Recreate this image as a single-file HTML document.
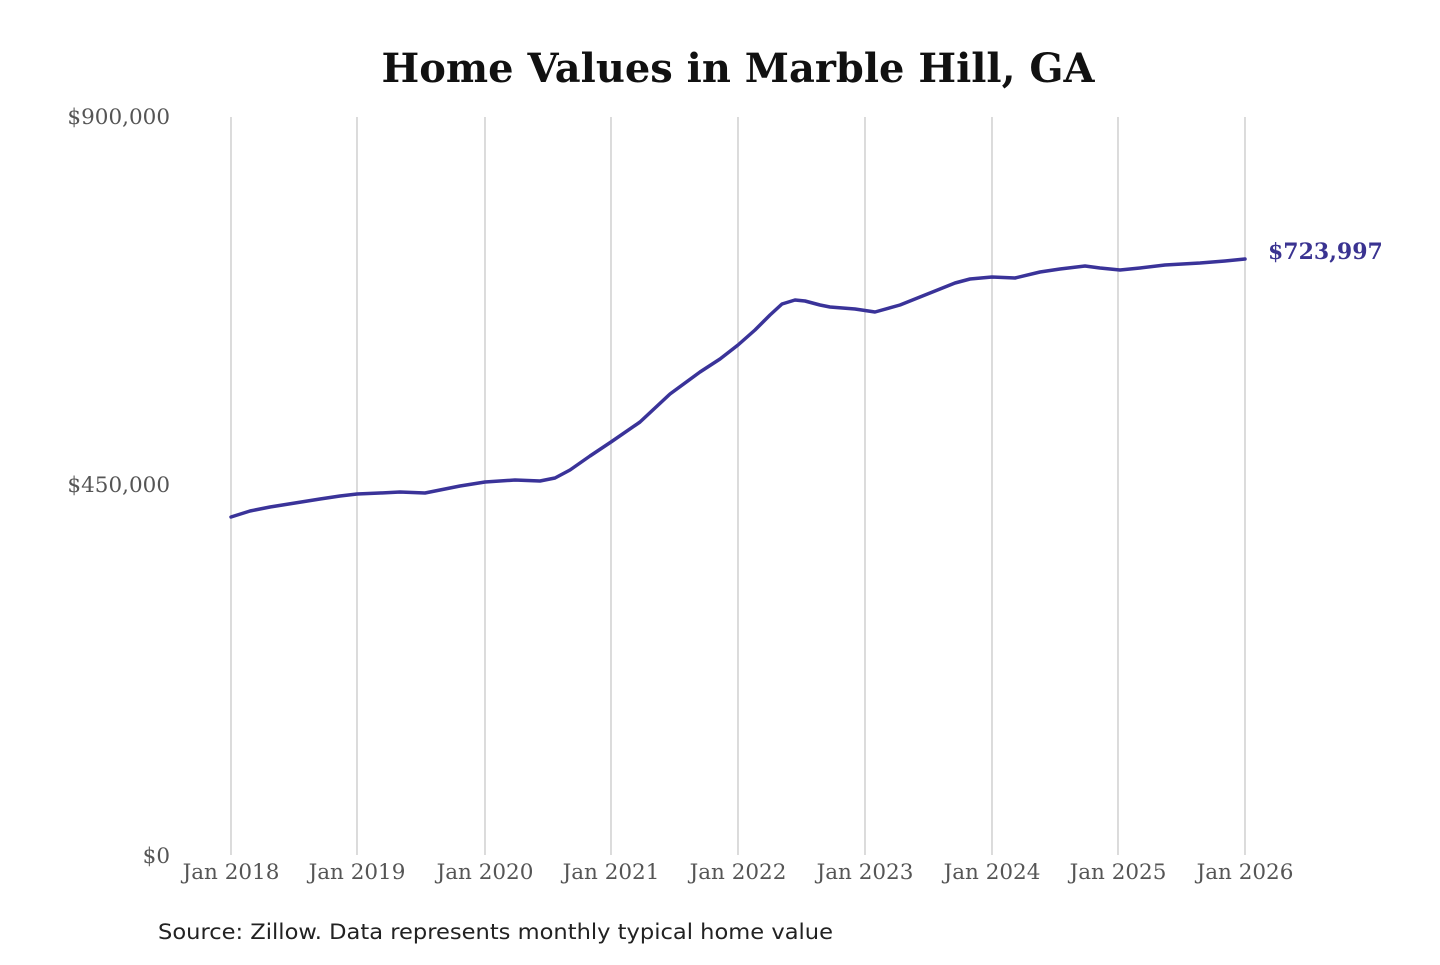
<!DOCTYPE html>
<html><head><meta charset="utf-8"><style>
body{margin:0;background:#fff;width:1440px;height:960px;overflow:hidden}
svg text{font-family:"DejaVu Serif","Liberation Serif",serif}
</style></head><body>
<svg width="1440" height="960" viewBox="0 0 1440 960">
<text x="738" y="82" text-anchor="middle" font-size="40" font-weight="bold" fill="#111" textLength="713" lengthAdjust="spacingAndGlyphs">Home Values in Marble Hill, GA</text>
<g stroke="#c8c8c8" stroke-width="1.3">
<line x1="231" y1="117" x2="231" y2="855"/><line x1="357" y1="117" x2="357" y2="855"/>
<line x1="485" y1="117" x2="485" y2="855"/><line x1="611" y1="117" x2="611" y2="855"/>
<line x1="738" y1="117" x2="738" y2="855"/><line x1="865" y1="117" x2="865" y2="855"/>
<line x1="992" y1="117" x2="992" y2="855"/><line x1="1118" y1="117" x2="1118" y2="855"/>
<line x1="1245" y1="117" x2="1245" y2="855"/>
</g>
<g font-size="21.5" fill="#555">
<text x="170" y="124" text-anchor="end">$900,000</text>
<text x="170" y="492" text-anchor="end">$450,000</text>
<text x="170" y="863" text-anchor="end">$0</text>
<g text-anchor="middle">
<text x="231" y="879">Jan 2018</text><text x="357" y="879">Jan 2019</text>
<text x="485" y="879">Jan 2020</text><text x="611" y="879">Jan 2021</text>
<text x="738" y="879">Jan 2022</text><text x="865" y="879">Jan 2023</text>
<text x="992" y="879">Jan 2024</text><text x="1118" y="879">Jan 2025</text>
<text x="1245" y="879">Jan 2026</text>
</g></g>
<polyline fill="none" stroke="#3a3399" stroke-width="3.5" stroke-linejoin="round" stroke-linecap="round"
points="231,517 250,511 270,507 295,503 320,499 340,496 357,494 380,493 400,492 425,493 445,489 460,486 485,482 515,480 540,481 555,478 570,470 590,456 611,442 640,422 655,408 670,394 700,372 720,359 738,345 755,330 770,315 782,304 795,300 805,301 820,305 830,307 855,309 875,312 900,305 920,297 940,289 955,283 970,279 992,277 1015,278 1040,272 1060,269 1085,266 1100,268 1120,270 1140,268 1165,265 1200,263 1225,261 1245,259"/>
<text x="1268" y="259" font-size="22" font-weight="bold" fill="#3a3391">$723,997</text>
<text x="158" y="939" font-size="21" fill="#222" textLength="675" lengthAdjust="spacingAndGlyphs" style="font-family:'DejaVu Sans','Liberation Sans',sans-serif">Source: Zillow. Data represents monthly typical home value</text>
</svg>
</body></html>
